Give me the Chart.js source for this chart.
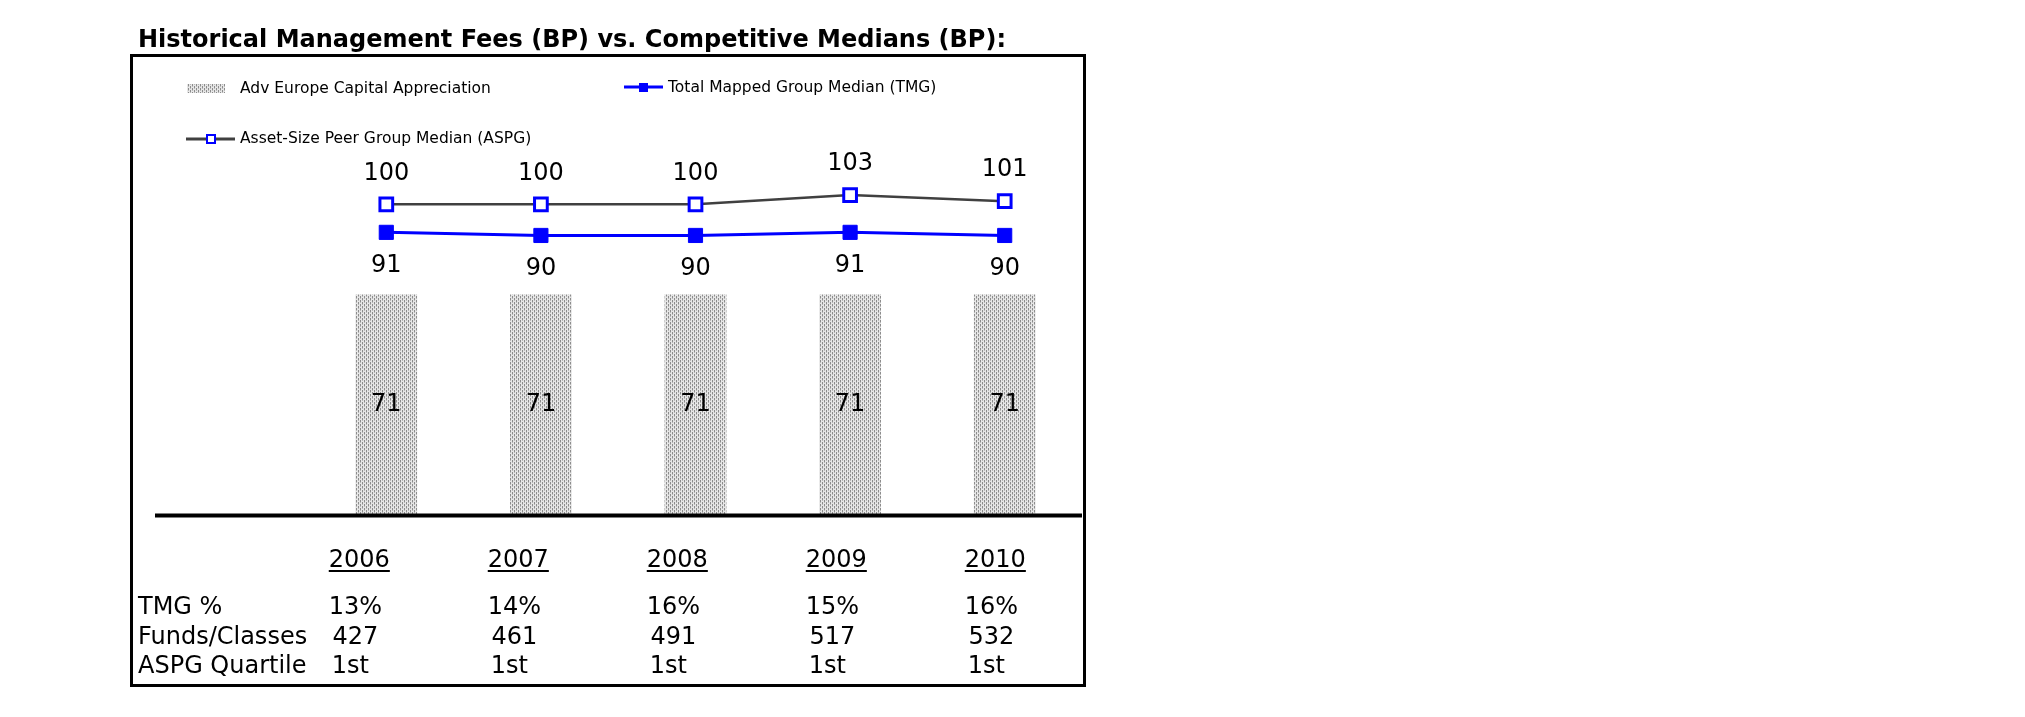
<!DOCTYPE html>
<html>
<head>
<meta charset="utf-8">
<title>Historical Management Fees</title>
<script src="https://cdn.jsdelivr.net/npm/chart.js@4.4.1/dist/chart.umd.min.js"></script>
<style>
  body { margin: 0; background: #ffffff; }
  #feesChart { display: block; }
</style>
</head>
<body>
<canvas id="feesChart" width="2025" height="717"></canvas>
<script>
var years = ['2006', '2007', '2008', '2009', '2010'];
var advFees = [71, 71, 71, 71, 71];
var tmgMedian = [91, 90, 90, 91, 90];
var aspgMedian = [100, 100, 100, 103, 101];
var tmgPct = ['13%', '14%', '16%', '15%', '16%'];
var fundsClasses = ['427', '461', '491', '517', '532'];
var aspgQuartile = ['1st', '1st', '1st', '1st', '1st'];

var FONT = '"DejaVu Sans", Verdana, sans-serif';
var TABLE_STEP = 159; // table columns are a bit wider than the plot categories

// dotted grey fill like the old excel pattern
function makePattern() {
    var c = document.createElement('canvas');
    c.width = 4;
    c.height = 4;
    var p = c.getContext('2d');
    p.fillStyle = '#e6e6e6';
    p.fillRect(0, 0, 4, 4);
    p.fillStyle = '#8c8c8c';
    p.fillRect(0, 0, 1, 2);
    p.fillRect(2, 2, 1, 2);
    p.fillStyle = '#b8b8b8';
    p.fillRect(2, 0, 1, 1);
    p.fillRect(0, 2, 1, 1);
    return p.createPattern(c, 'repeat');
}
var dots = makePattern();

var decorations = {
    id: 'decorations',
    afterDatasetsDraw: function(chart) {
        var ctx = chart.ctx;
        var x = chart.scales.x;
        var y = chart.scales.y;
        var area = chart.chartArea;
        ctx.save();

        // title
        ctx.fillStyle = '#000';
        ctx.font = 'bold 24px ' + FONT;
        ctx.textBaseline = 'middle';
        ctx.textAlign = 'left';
        ctx.fillText('Historical Management Fees (BP) vs. Competitive Medians (BP):', 138, 41);

        // frame
        ctx.strokeStyle = '#000';
        ctx.lineWidth = 3;
        ctx.strokeRect(131.5, 55.5, 953, 630);

        // baseline
        var y0 = y.getPixelForValue(0);
        ctx.lineWidth = 4;
        ctx.beginPath();
        ctx.moveTo(155, y0);
        ctx.lineTo(area.right, y0);
        ctx.stroke();

        // legend
        ctx.font = '15.5px ' + FONT;
        ctx.fillStyle = dots;
        ctx.fillRect(187, 84, 38, 9);
        ctx.fillStyle = '#000';
        ctx.fillText(chart.data.datasets[0].label, 240, 89);

        ctx.strokeStyle = '#0000ff';
        ctx.lineWidth = 3;
        ctx.beginPath();
        ctx.moveTo(624, 87);
        ctx.lineTo(663, 87);
        ctx.stroke();
        ctx.fillStyle = '#0000ff';
        ctx.fillRect(639, 83, 9, 9);
        ctx.fillStyle = '#000';
        ctx.fillText(chart.data.datasets[1].label, 668, 88);

        ctx.strokeStyle = '#404040';
        ctx.beginPath();
        ctx.moveTo(186, 139);
        ctx.lineTo(235, 139);
        ctx.stroke();
        ctx.fillStyle = '#fff';
        ctx.fillRect(207, 135, 8, 8);
        ctx.strokeStyle = '#0000ff';
        ctx.lineWidth = 2;
        ctx.strokeRect(207, 135, 8, 8);
        ctx.fillStyle = '#000';
        ctx.fillText(chart.data.datasets[2].label, 240, 139);

        // value labels
        ctx.font = '24px ' + FONT;
        ctx.textAlign = 'center';
        chart.getDatasetMeta(0).data.forEach(function(bar, i) {
            ctx.fillText(String(advFees[i]), bar.x, y.getPixelForValue(advFees[i] / 2));
        });
        chart.getDatasetMeta(1).data.forEach(function(pt, i) {
            ctx.fillText(String(tmgMedian[i]), pt.x, pt.y + 33);
        });
        chart.getDatasetMeta(2).data.forEach(function(pt, i) {
            ctx.fillText(String(aspgMedian[i]), pt.x, pt.y - 31);
        });

        // table under the chart
        ctx.font = '24px ' + FONT;
        ctx.textAlign = 'left';
        ctx.fillText('TMG %', 138, 608);
        ctx.fillText('Funds/Classes', 138, 638);
        ctx.fillText('ASPG Quartile', 138, 667);
        ctx.textAlign = 'center';
        ctx.lineWidth = 2;
        ctx.strokeStyle = '#000';
        var col0 = x.getPixelForValue(0) - 31;
        years.forEach(function(yr, i) {
            var vx = col0 + i * TABLE_STEP;
            var cx = vx + 4;
            ctx.fillText(yr, cx, 561);
            var w = ctx.measureText(yr).width;
            ctx.beginPath();
            ctx.moveTo(cx - w / 2, 571);
            ctx.lineTo(cx + w / 2, 571);
            ctx.stroke();
            ctx.fillText(tmgPct[i], vx, 608);
            ctx.fillText(fundsClasses[i], vx, 638);
            ctx.fillText(aspgQuartile[i], vx - 5, 667);
        });

        ctx.restore();
    }
};

var chartdata = {
    labels: years,
    datasets: [
        {
            type: 'bar',
            label: 'Adv Europe Capital Appreciation',
            data: advFees,
            backgroundColor: dots,
            borderWidth: 0,
            barPercentage: 0.4,
            categoryPercentage: 1.0,
            order: 3
        },
        {
            type: 'line',
            label: 'Total Mapped Group Median (TMG)',
            data: tmgMedian,
            borderColor: '#0000ff',
            borderWidth: 3,
            backgroundColor: '#0000ff',
            pointStyle: 'rect',
            pointRadius: 10,
            pointBorderWidth: 1,
            pointBackgroundColor: '#0000ff',
            pointBorderColor: '#0000ff',
            tension: 0,
            fill: false,
            order: 1
        },
        {
            type: 'line',
            label: 'Asset-Size Peer Group Median (ASPG)',
            data: aspgMedian,
            borderColor: '#404040',
            borderWidth: 2.5,
            pointStyle: 'rect',
            pointRadius: 9,
            pointBorderWidth: 3,
            pointBackgroundColor: '#ffffff',
            pointBorderColor: '#0000ff',
            tension: 0,
            fill: false,
            order: 2
        }
    ]
};

var feesChart = new Chart(document.getElementById('feesChart'), {
    type: 'bar',
    data: chartdata,
    options: {
        responsive: false,
        animation: false,
        devicePixelRatio: 1,
        layout: { padding: { left: 309, right: 943, top: 111, bottom: 201.5 } },
        plugins: {
            legend: { display: false },
            tooltip: { enabled: false }
        },
        scales: {
            x: { display: false, offset: true },
            y: { display: false, min: 0, max: 130 }
        }
    },
    plugins: [decorations]
});
</script>
</body>
</html>
